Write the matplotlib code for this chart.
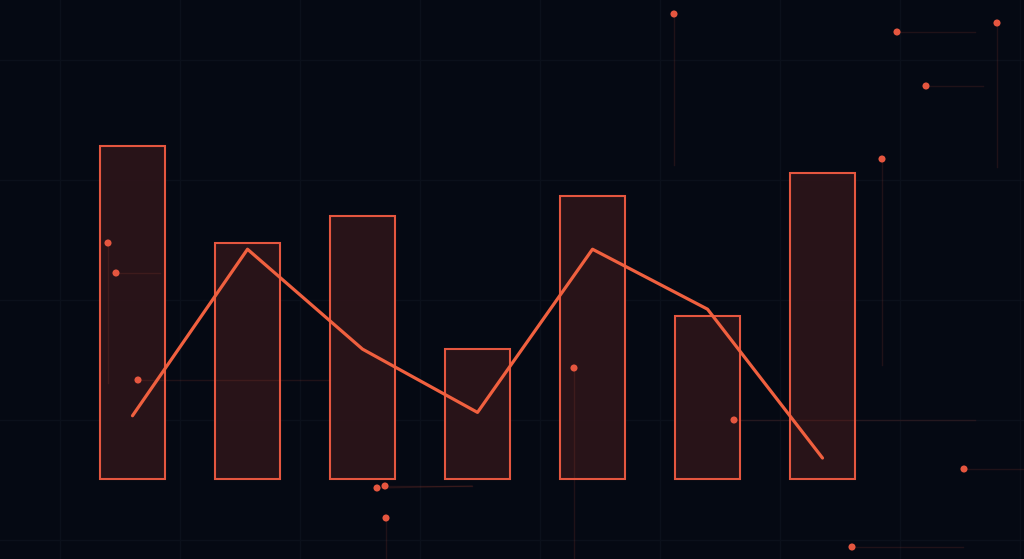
import matplotlib
matplotlib.use("Agg")
import matplotlib.pyplot as plt
import numpy as np

# ---- data ----
categories = ["A", "B", "C", "D", "E", "F", "G"]
bar_values = [100, 71, 79, 39, 85, 49, 92]
line_values = [19, 69, 39, 20, 69, 51, 6.3]

# decorative "circuit" nodes (background frame, 0..1024 x 0..559, y down)
node_x = [674, 897, 997, 926, 882, 108, 116, 138, 574, 734, 377, 385, 386, 964, 852]
node_y = [14, 32, 23, 86, 159, 243, 273, 380, 368, 420, 488, 486, 518, 469, 547]
# trace ends for each node (x_end, y_end)
trace_x_end = [674, 975, 997, 983, 882, 108, 160, 330, 574, 975, 472, 472, 386, 1024, 963]
trace_y_end = [165, 32, 167, 86, 365, 383, 273, 380, 559, 420, 486, 486, 559, 469, 547]

BG = "#050913"
EDGE = "#e5563f"
FILL = "#2c1419"
LINE = "#f0603f"
GRID = "#0b101b"
TRACE = "#e5563f"

W, H = 1024, 559
fig = plt.figure(figsize=(W / 100, H / 100), dpi=100, facecolor=BG)

# background frame for grid
bg = fig.add_axes([0, 0, 1, 1], facecolor=BG)
bg.set_xlim(0, W)
bg.set_ylim(H, 0)
bg.axis("off")
for gx in np.arange(60, W, 120):
    bg.axvline(gx, color=GRID, lw=1.0, zorder=0)
for gy in np.arange(60, H, 120):
    bg.axhline(gy, color=GRID, lw=1.0, zorder=0)

# main chart axes
ax = fig.add_axes([0, 0, 1, 1])
ax.patch.set_alpha(0)
px_per_cat = 115.0
x0px = 132.5
px_per_unit = 3.33
base_px = 479.0
ax.set_xlim((0 - x0px) / px_per_cat, (W - x0px) / px_per_cat)
ax.set_ylim(-(H - base_px) / px_per_unit, base_px / px_per_unit)
ax.axis("off")

x = np.arange(len(categories))
ax.bar(x, bar_values, width=65 / px_per_cat, color=FILL, alpha=0.92, edgecolor="none", zorder=2)
ax.bar(x, bar_values, width=65 / px_per_cat, color="none", edgecolor=EDGE,
       linewidth=1.5, zorder=3)

# decoration overlay
ov = fig.add_axes([0, 0, 1, 1])
ov.patch.set_alpha(0)
ov.set_xlim(0, W)
ov.set_ylim(H, 0)
ov.axis("off")
for x0, y0, x1, y1 in zip(node_x, node_y, trace_x_end, trace_y_end):
    ov.plot([x0, x1], [y0, y1], color=TRACE, alpha=0.12, lw=1.0, zorder=1)
ov.scatter(node_x, node_y, s=26, color=EDGE, edgecolors="none", zorder=5)

# line on top
ax2 = fig.add_axes([0, 0, 1, 1])
ax2.patch.set_alpha(0)
ax2.set_xlim(ax.get_xlim())
ax2.set_ylim(ax.get_ylim())
ax2.axis("off")
ax2.plot(x, line_values, color=LINE, lw=2.3, zorder=4, solid_capstyle="round")

fig.savefig("out.png", dpi=100, facecolor=BG)
